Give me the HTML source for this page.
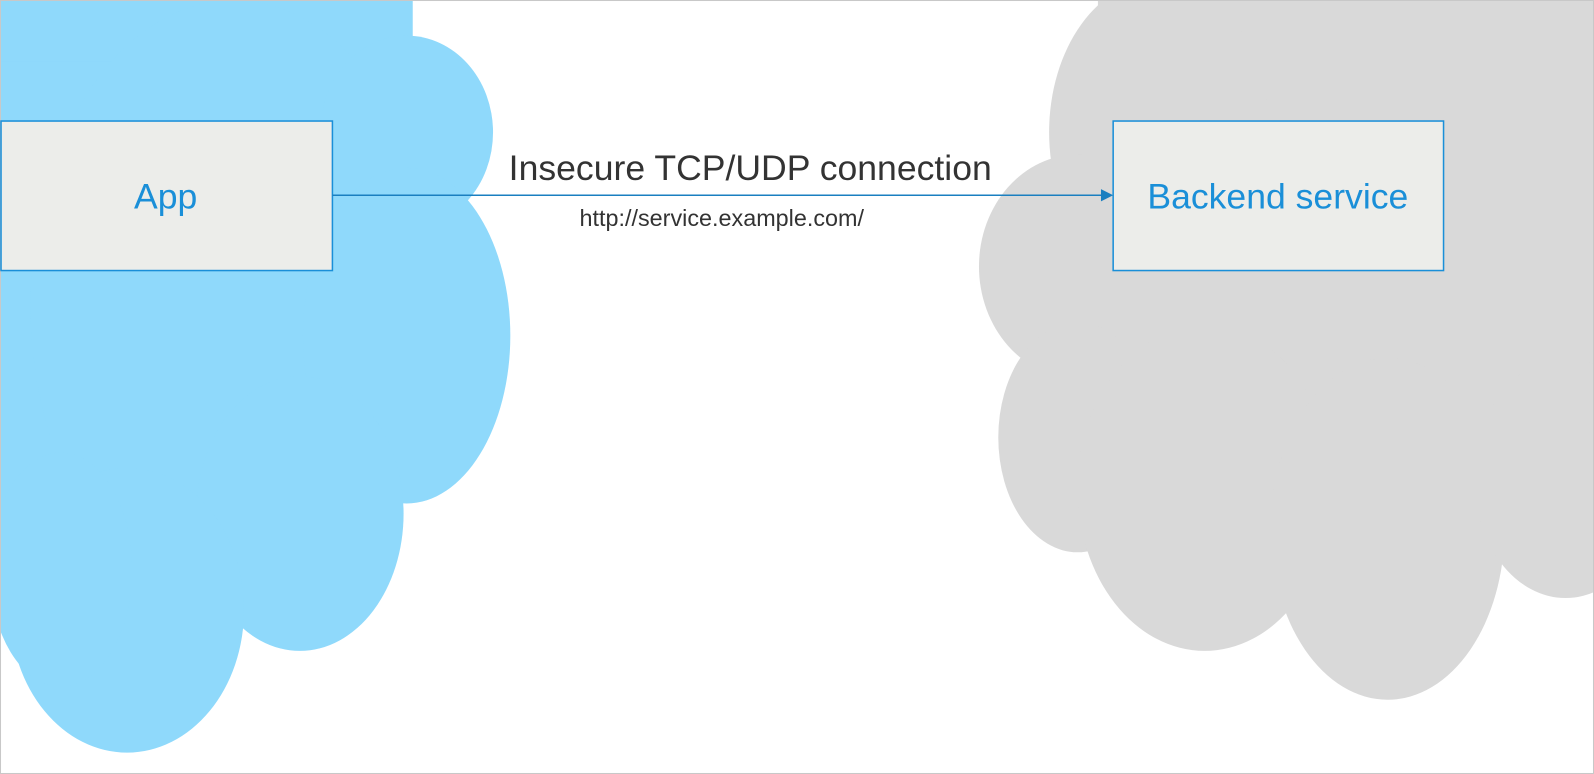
<!DOCTYPE html>
<html><head><style>html,body{margin:0;padding:0;background:#fff;overflow:hidden}svg{display:block}</style></head>
<body>
<svg width="1594" height="774" viewBox="0 0 1568 761" preserveAspectRatio="none" xmlns="http://www.w3.org/2000/svg">
<rect x="0" y="0" width="1568" height="761" fill="#fff"/>
<g fill="#8fd9fb">
<rect x="0" y="0" width="250" height="600"/>
<rect x="0" y="0" width="406" height="60"/>
<ellipse cx="230" cy="300" rx="200" ry="300"/>
<ellipse cx="400" cy="130" rx="85" ry="95"/>
<ellipse cx="400" cy="330" rx="102" ry="165"/>
<ellipse cx="295" cy="505" rx="102" ry="135"/>
<ellipse cx="125" cy="600" rx="115" ry="140"/>
<ellipse cx="60" cy="560" rx="70" ry="115"/>
</g>
<g fill="#d9d9d9">
<rect x="1080" y="0" width="488" height="520"/>
<ellipse cx="1140" cy="130" rx="108" ry="150"/>
<ellipse cx="1060" cy="262" rx="97" ry="110"/>
<ellipse cx="1060" cy="430" rx="78" ry="113"/>
<ellipse cx="1185" cy="480" rx="125" ry="160"/>
<ellipse cx="1365" cy="520" rx="115" ry="168"/>
<ellipse cx="1540" cy="470" rx="90" ry="118"/>
</g>
<rect x="0.5" y="0.5" width="1567" height="760" fill="none" stroke="#c8c8c8"/>
<rect x="1" y="119" width="326" height="147" fill="#ecedea" stroke="#1a8fd8" stroke-width="1.5"/>
<rect x="1095" y="119" width="325" height="147" fill="#ecedea" stroke="#1a8fd8" stroke-width="1.5"/>
<line x1="327" y1="192" x2="1085" y2="192" stroke="#1a7fc0" stroke-width="1.5"/>
<polygon points="1083,186 1095,192 1083,198" fill="#1a7fc0"/>
<g font-family="Liberation Sans, sans-serif">
<text x="163" y="205" font-size="35" fill="#1a8fd8" text-anchor="middle">App</text>
<text x="1257" y="205" font-size="35" fill="#1a8fd8" text-anchor="middle">Backend service</text>
<text x="738" y="177" font-size="35" fill="#333" text-anchor="middle">Insecure TCP/UDP connection</text>
<text x="710" y="222" font-size="23" fill="#333" text-anchor="middle">http://service.example.com/</text>
</g>
</svg>
</body></html>
